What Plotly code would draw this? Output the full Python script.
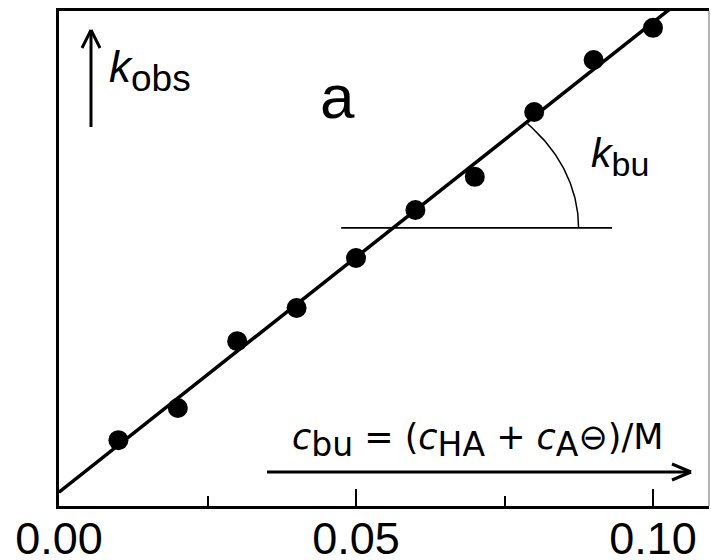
import numpy as np
import plotly.graph_objects as go

# ---- data ----
c_bu = [0.01, 0.02, 0.03, 0.04, 0.05, 0.06, 0.07, 0.08, 0.09, 0.10]
k_obs = [0.133, 0.198, 0.333, 0.400, 0.501, 0.598, 0.665, 0.796, 0.901, 0.966]
fit_x = [0.0, 0.115]
fit_y = [0.028, 0.028 + 9.49 * 0.115]
ref_x = [0.0475, 0.0931]
ref_y = [0.562, 0.562]
x_ticks = [0.00, 0.05, 0.10]
x_ticklabels = ["0.00", "0.05", "0.10"]
x_minor = [0.025, 0.075]

W, H = 711, 560
L, R, T, B = 59, 2, 11, 54
PW, PH = W - L - R, H - T - B
FONT = "Liberation Sans, Arial, Helvetica, sans-serif"
WIDE = "DejaVu Sans, Verdana, sans-serif"


def px(x):
    return (x - L) / PW


def py(y):
    return (H - B - y) / PH


fig = go.Figure()

# fitted line
fig.add_trace(go.Scatter(x=fit_x, y=fit_y, mode="lines",
                         line=dict(color="black", width=3.5), hoverinfo="skip"))
# data points
fig.add_trace(go.Scatter(x=c_bu, y=k_obs, mode="markers",
                         marker=dict(color="black", size=20), hoverinfo="skip"))
# horizontal reference line for the slope angle
fig.add_trace(go.Scatter(x=ref_x, y=ref_y, mode="lines",
                         line=dict(color="black", width=1.8), hoverinfo="skip"))
# angle arc (ellipse in data units because of the aspect of the axes)
slope = (fit_y[1] - fit_y[0]) / (fit_x[1] - fit_x[0])
cx = (ref_y[0] - fit_y[0]) / slope
cy = ref_y[0]
rx, ry = 0.0312, 0.305
t = np.linspace(0, np.radians(43.5), 60)
fig.add_trace(go.Scatter(x=cx + rx * np.cos(t), y=cy + ry * np.sin(t), mode="lines",
                         line=dict(color="black", width=1.5), hoverinfo="skip"))

shapes = []
# right frame edge: thin grey
shapes.append(dict(type="line", xref="paper", yref="paper", x0=1, x1=1, y0=0, y1=1,
                   line=dict(color="#9a9a9a", width=1.5)))


def seg(x0, y0, x1, y1, w=3):
    shapes.append(dict(type="line", xref="paper", yref="paper",
                       x0=px(x0), y0=py(y0), x1=px(x1), y1=py(y1),
                       line=dict(color="black", width=w)))


# y-axis arrow (k_obs)
seg(91, 127, 91, 30)
seg(91, 30, 82, 48)
seg(91, 30, 100, 48)
# x-axis arrow (c_bu)
seg(267, 472, 691, 472)
seg(691, 472, 672, 464)
seg(691, 472, 672, 480)

annotations = [
    dict(xref="paper", yref="paper", x=px(107), y=py(40), xanchor="left", yanchor="top",
         text="<i>k</i><sub><span style='font-size:37px'>obs</span></sub>",
         showarrow=False, font=dict(size=44, color="black", family=FONT)),
    dict(xref="paper", yref="paper", x=px(337), y=py(96), xanchor="center", yanchor="middle",
         text="a", showarrow=False, font=dict(size=62, color="black", family=FONT)),
    dict(xref="paper", yref="paper", x=px(589), y=py(128), xanchor="left", yanchor="top",
         text="<i>k</i><sub><span style='font-size:34px'>bu</span></sub>",
         showarrow=False, font=dict(size=41, color="black", family=FONT)),
    dict(xref="paper", yref="paper", x=px(665), y=py(466), xanchor="right", yanchor="bottom",
         text=("<i>c</i><sub><span style='font-size:33px'>bu</span></sub> = "
               "(<i>c</i><sub><span style='font-size:33px'>HA</span></sub> + "
               "<i>c</i><sub><span style='font-size:33px'>A</span></sub>⊖)/M"),
         showarrow=False, font=dict(size=35, color="black", family=WIDE)),
]

fig.update_layout(
    width=W, height=H,
    margin=dict(l=L, r=R, t=T, b=B, pad=0, autoexpand=False),
    paper_bgcolor="white", plot_bgcolor="white",
    showlegend=False,
    shapes=shapes,
    annotations=annotations,
    xaxis=dict(range=[0, (W - L - R) / 5940], showgrid=False, zeroline=False,
               showline=True, linecolor="black", linewidth=3, mirror=True,
               automargin=False,
               ticks="inside", ticklen=17, tickwidth=2, tickcolor="black",
               tickvals=x_ticks, ticktext=x_ticklabels, ticklabelstandoff=-9,
               tickfont=dict(size=45, color="black", family=FONT),
               minor=dict(tickvals=x_minor, ticks="inside", ticklen=10, tickwidth=2,
                          tickcolor="black")),
    yaxis=dict(range=[0, 1], showgrid=False, zeroline=False, showticklabels=False,
               automargin=False,
               showline=True, linecolor="black", linewidth=3, ticks=""),
)

fig.write_html("out.html",
               config={"displayModeBar": False, "staticPlot": True},
               post_script="document.body.style.margin='0px';"
                           "document.body.style.overflow='hidden';")
